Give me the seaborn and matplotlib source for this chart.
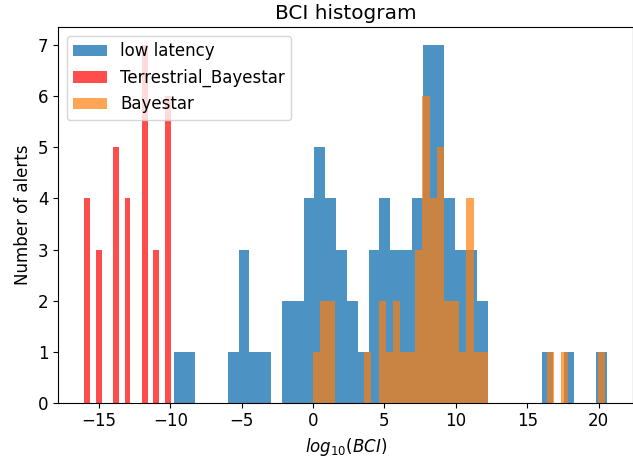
# BCI histogram - recreated with seaborn
import numpy as np
import pandas as pd
import matplotlib
matplotlib.use("Agg")
import matplotlib.pyplot as plt
import seaborn as sns

# Data: counts per bin (bin range given by lo/hi)
low_latency_lo, low_latency_hi = -9.77, 20.58
low_latency_counts = [1, 1, 0, 0, 0, 1, 3, 1, 1, 0,
                      2, 2, 4, 5, 4, 3, 2, 1, 3, 4,
                      3, 3, 4, 7, 7, 4, 3, 3, 2, 0,
                      0, 0, 0, 0, 1, 0, 1, 0, 0, 1]

terrestrial_lo, terrestrial_hi = -16.02, -9.98
terrestrial_counts = [4, 0, 3, 0, 0, 5, 0, 4, 0, 0, 7, 0, 3, 0, 6]

bayestar_lo, bayestar_hi = -0.02, 20.45
bayestar_counts = [1, 2, 2, 0, 0, 0, 0, 1, 0, 2,
                   1, 2, 1, 1, 3, 6, 4, 5, 2, 2,
                   1, 4, 1, 1, 0, 0, 0, 0, 0, 0,
                   0, 0, 1, 0, 1, 0, 0, 0, 0, 1]

plt.rcParams["font.size"] = 12


def draw_hist(ax, lo, hi, counts, color, alpha, label):
    edges = np.linspace(lo, hi, len(counts) + 1)
    df = pd.DataFrame({"bci": (edges[:-1] + edges[1:]) / 2, "n": counts})
    sns.histplot(data=df, x="bci", weights="n", bins=edges.tolist(), ax=ax,
                 color=color, alpha=alpha, linewidth=0, label=label)


fig = plt.figure(figsize=(6.33, 4.68), dpi=100)
ax = fig.add_axes([0.092, 0.1395, 0.908, 0.802])

draw_hist(ax, low_latency_lo, low_latency_hi, low_latency_counts,
          "#1f77b4", 0.8, "low latency")
draw_hist(ax, terrestrial_lo, terrestrial_hi, terrestrial_counts,
          "red", 0.7, "Terrestrial_Bayestar")
draw_hist(ax, bayestar_lo, bayestar_hi, bayestar_counts,
          "#ff7f0e", 0.7, "Bayestar")

ax.margins(x=0.05, y=0.05)
ax.set_ylim(0, None)
ax.set_title("BCI histogram")
ax.set_xlabel("$log_{10}(BCI)$")
ax.set_ylabel("Number of alerts")
ax.legend(loc="upper left")

fig.savefig("out.png", dpi=100)
